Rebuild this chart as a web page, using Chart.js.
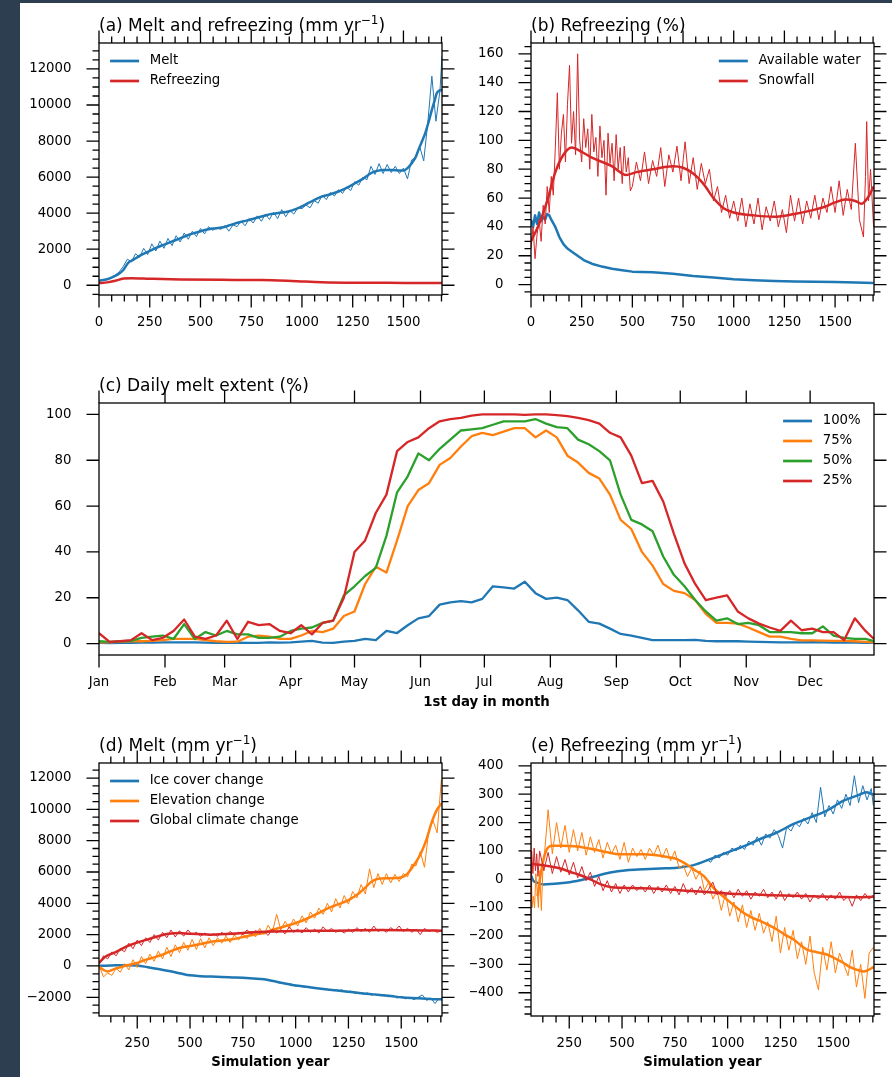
<!DOCTYPE html>
<html>
<head>
<meta charset="utf-8">
<title>Melt and refreezing</title>
<script src="https://cdn.jsdelivr.net/npm/chart.js@4.4.1/dist/chart.umd.min.js"></script>
<style>
  html, body { margin: 0; padding: 0; }
  body { width: 892px; height: 1077px; background: #2c3e50; position: relative; overflow: hidden; }
  #sheet { position: absolute; left: 20px; top: 3px; width: 872px; height: 1074px; background: #fff; }
  canvas { position: absolute; }
</style>
</head>
<body>
<div id="sheet"></div>
<canvas id="chartA"></canvas>
<canvas id="chartB"></canvas>
<canvas id="chartC"></canvas>
<canvas id="chartD"></canvas>
<canvas id="chartE"></canvas>
<script>
// ==================== HELPERS ====================
// evenly spaced positions (years / days / tick positions), inclusive
function every(from, to, step) {
    const out = [];
    for (let v = from; v <= to + 1e-9; v += step) out.push(v);
    return out;
}

const BLUE = '#1f77b4', ORANGE = '#ff7f0e', GREEN = '#2ca02c', RED = '#d62728';

// ==================== (a) MELT AND REFREEZING ====================
const meltYears = every(0, 1680, 20).concat([1690]);
const meltRaw = [
    250, 280, 330, 420, 560, 750, 1050, 1450, 1300, 1750,
    1550, 2050, 1700, 2300, 1900, 2450, 2050, 2600, 2200, 2750,
    2400, 2900, 2550, 3000, 2700, 3150, 2850, 3250, 3050, 3200,
    3100, 3300, 3000, 3350, 3250, 3550, 3300, 3700, 3450, 3850,
    3550, 3950, 3650, 4050, 3700, 4200, 3800, 4150, 3950, 4300,
    4250, 4450, 4300, 4700, 4550, 5000, 4750, 5150, 4950, 5300,
    5100, 5450, 5250, 5750, 5550, 6000, 5850, 6600, 6150, 6750,
    6200, 6700, 6250, 6600, 6200, 6500, 5900, 6950, 7100, 7700,
    6900, 9000, 11600, 9100, 10800, 12700
];
const meltSmoothYears = [0, 40, 80, 100, 120, 145, 170, 194, 230, 276, 320, 358, 400, 440, 480, 522, 560, 605, 650, 687,
    730, 769, 810, 851, 890, 933, 975, 1015, 1055, 1097, 1140, 1180, 1220, 1262, 1300, 1327, 1350, 1377, 1400, 1426,
    1460, 1500, 1520, 1541, 1560, 1574, 1590, 1607, 1625, 1640, 1655, 1664, 1677, 1690];
const meltSmooth = [250, 330, 520, 650, 850, 1260, 1420, 1590, 1800, 2050, 2250, 2420, 2600, 2790, 2930, 3070, 3150, 3200, 3350, 3480,
    3600, 3720, 3840, 3960, 4020, 4090, 4250, 4460, 4700, 4920, 5050, 5200, 5400, 5660, 5900, 6120, 6280, 6360, 6390, 6400,
    6380, 6360, 6500, 6770, 7100, 7510, 7950, 8430, 9100, 9730, 10300, 10650, 10800, 10840];
const refreezeYears = [0, 40, 80, 120, 160, 250, 400, 600, 800, 950, 1100, 1300, 1500, 1690];
const refreezeSmooth = [120, 160, 250, 370, 390, 360, 320, 300, 290, 240, 170, 140, 130, 120];

// ==================== (b) REFREEZING (%) ====================
const waterYears = [0, 10, 20, 30, 40, 50, 60, 70, 80, 90, 100, 120, 140, 160, 180, 200, 230, 260, 300, 350,
    400, 450, 500, 600, 700, 800, 900, 1000, 1100, 1200, 1300, 1400, 1500, 1600, 1690];
const waterPct = [45, 40, 48, 42, 50, 44, 47, 45, 49, 48, 45, 40, 33, 28, 25, 23, 20, 17, 14.5, 12.5,
    11, 10, 9, 8.5, 7.5, 6, 5, 3.8, 3, 2.5, 2.2, 2, 1.8, 1.5, 1.2];
const snowYears = every(0, 500, 10).concat(every(520, 1640, 20), [1650, 1656, 1665, 1675, 1690]);
const snowRaw = [
    25, 40, 18, 35, 45, 30, 55, 42, 68, 50, 75, 62, 95, 133, 80, 105, 118, 85, 125, 152,
    98, 120, 90, 160, 100, 85, 115, 95, 108, 80, 118, 92, 102, 75, 110, 88, 100, 62, 105, 84,
    98, 72, 104, 80, 95, 70, 96, 78, 88, 65, 68,
    85, 72, 92, 70, 86, 75, 95, 68, 90, 78, 96, 72, 99, 70, 88, 66, 84, 70, 80, 58,
    68, 50, 62, 46, 58, 44, 60, 40, 56, 42, 60, 38, 54, 44, 58, 40, 52, 36, 62, 44,
    60, 42, 58, 46, 62, 45, 60, 50, 68, 50, 72, 48, 66, 52, 98, 45, 33,
    75, 113, 58, 80, 40
];
const snowSmoothYears = [0, 40, 80, 120, 160, 200, 250, 300, 400, 470, 520, 600, 700, 750, 800, 850, 900, 950, 1000, 1100,
    1200, 1300, 1400, 1450, 1500, 1550, 1600, 1630, 1660, 1690];
const snowSmooth = [30, 42, 58, 78, 90, 95, 92, 88, 82, 76, 78, 80, 82, 81, 77, 70, 60, 53, 50, 48,
    47, 49, 52, 54, 57, 59, 58, 56, 60, 68];

// ==================== (c) DAILY MELT EXTENT ====================
const days = every(0, 360, 5).concat([364]);
const monthStarts = [0, 31, 59, 90, 120, 151, 181, 212, 243, 273, 304, 334];
const monthNames = ['Jan', 'Feb', 'Mar', 'Apr', 'May', 'Jun', 'Jul', 'Aug', 'Sep', 'Oct', 'Nov', 'Dec'];
const extent100 = [
    0.3, 0.2, 0.3, 0.3, 0.4, 0.4, 0.5, 0.5, 0.5, 0.5,
    0.4, 0.3, 0.3, 0.4, 0.3, 0.3, 0.5, 0.4, 0.5, 0.8,
    1.2, 0.4, 0.3, 0.8, 1.2, 2, 1.5, 5.5, 4.6, 8,
    11, 12, 17, 18, 18.5, 18, 19.5, 25, 24.5, 24,
    27, 22, 19.5, 20, 19, 14.5, 9.5, 8.7, 6.5, 4.2,
    3.5, 2.5, 1.5, 1.5, 1.5, 1.5, 1.6, 1.2, 1, 1,
    1, 0.8, 0.7, 0.6, 0.5, 0.5, 0.5, 0.6, 0.5, 0.4,
    0.4, 0.4, 0.3, 0.3
];
const extent75 = [
    0.5, 0.5, 0.8, 1, 1, 1.2, 1.5, 2, 2, 2,
    1.5, 1, 0.7, 0.8, 3, 3.5, 3, 2, 2, 3.5,
    5.5, 5, 6.5, 12, 14, 26, 33.5, 31, 45, 60,
    67, 70, 78, 81, 86, 90.5, 92, 91, 92.5, 94,
    94, 90, 93, 90, 82, 79, 74.5, 72, 65, 54,
    50, 40, 34, 26, 23, 22, 19, 13, 9, 9,
    8.7, 7, 5, 3, 3, 2, 1.4, 1.4, 1.3, 1.2,
    1.2, 1, 0.7, 0.5
];
const extent50 = [
    1, 0.7, 1, 1.2, 2.5, 3, 3.5, 2, 8.5, 2,
    5, 3.5, 5.5, 4, 4, 2.5, 2.5, 3, 5.5, 6.5,
    7, 9, 10, 21, 25, 29.5, 33, 47, 66, 73,
    83, 80, 85, 89, 93, 93.5, 94, 95.5, 97, 97,
    97, 98, 96, 94.5, 94, 89, 87, 84, 80, 65,
    54, 52, 49, 38, 30, 25, 19, 14, 10, 11,
    8.5, 9, 8, 5, 5, 5, 4.5, 4.5, 7.5, 3.5,
    2.5, 2, 2, 1
];
const extent25 = [
    4.5, 0.7, 1, 1.5, 4.5, 1.5, 2.5, 5.5, 10.5, 3,
    2, 3.5, 10, 2, 9.5, 8, 8.5, 5.5, 4.5, 8,
    4, 9, 10, 20, 40, 45, 57, 65, 84, 88,
    90, 94, 97, 98, 98.5, 99.5, 100, 100, 100, 100,
    99.8, 100, 100, 99.7, 99.3, 98.5, 97.5, 96, 92, 90,
    82, 70, 71, 62, 48, 35, 26, 19, 20, 21,
    14, 11, 8.7, 7, 5.5, 10, 5.8, 6.5, 5, 5,
    1.5, 11, 5.5, 2
];

// ==================== (d) MELT BY CAUSE ====================
const simYears = every(70, 1690, 20);
const dOrangeRaw = [
    0, -700, -450, -600, -150, -400, 150, -250, 400, -100,
    600, 150, 750, 300, 950, 450, 1200, 600, 1350, 850,
    1500, 1000, 1700, 1050, 1750, 1150, 1800, 1300, 1800, 1450,
    1900, 1500, 2000, 1650, 2050, 1750, 2200, 1850, 2400, 2000,
    2600, 2150, 3300, 2300, 2850, 2400, 3000, 2550, 3200, 2750,
    3450, 3050, 3700, 3300, 4000, 3450, 4300, 3700, 4500, 3950,
    4750, 4350, 5200, 4600, 6200, 5000, 5900, 5200, 5900, 5300,
    5850, 5400, 5900, 5700, 6500, 6400, 7300, 6300, 8600, 9300,
    8500, 11900
];
const dRedRaw = [
    100, 650, 450, 900, 650, 1100, 900, 1450, 1100, 1650,
    1300, 1800, 1500, 2000, 1650, 2150, 1800, 2300, 1850, 2250,
    1900, 2300, 2000, 2150, 1900, 2100, 1950, 2050, 1900, 2150,
    1950, 2200, 2000, 2150, 2000, 2300, 2050, 2250, 2100, 2200,
    1950, 2350, 2100, 2300, 2050, 2500, 2150, 2350, 2100, 2450,
    2150, 2350, 2100, 2500, 2200, 2400, 2150, 2300, 2100, 2350,
    2150, 2450, 2200, 2400, 2150, 2550, 2200, 2350, 2150, 2450,
    2250, 2550, 2200, 2400, 2150, 2350, 2000, 2400, 2200, 2300,
    2150, 2250
];
const dBlueRawYears = every(900, 1680, 20).concat([1690]);
const dBlueRaw = [
    -950, -1080, -1100, -1180, -1150, -1300, -1250, -1360, -1300, -1420,
    -1380, -1480, -1430, -1560, -1500, -1600, -1520, -1680, -1600, -1750,
    -1680, -1800, -1720, -1870, -1790, -1900, -1830, -1970, -1880, -2050,
    -1950, -2100, -2000, -2150, -2000, -1850, -2200, -2050, -2400, -2050,
    -2200
];
const dBlueSmoothYears = [69, 100, 150, 200, 250, 300, 350, 400, 450, 500, 550, 600, 650, 700, 750, 800, 850, 900, 950, 1000,
    1050, 1100, 1150, 1200, 1250, 1300, 1350, 1400, 1450, 1500, 1550, 1600, 1650, 1693];
const dBlueSmooth = [0, 20, 40, 50, 30, -80, -200, -320, -460, -600, -650, -680, -700, -730, -760, -800, -850, -980, -1120, -1250,
    -1330, -1420, -1500, -1570, -1640, -1720, -1790, -1860, -1920, -2000, -2050, -2080, -2120, -2130];
const dOrangeSmoothYears = [69, 90, 110, 140, 170, 207, 250, 286, 330, 365, 400, 450, 500, 550, 600, 650, 700, 750, 800, 850,
    900, 950, 1000, 1050, 1100, 1150, 1200, 1250, 1300, 1330, 1360, 1400, 1450, 1500, 1530, 1560, 1590, 1620, 1645, 1670, 1693];
const dOrangeSmooth = [-50, -250, -350, -200, -80, 60, 200, 380, 550, 700, 900, 1150, 1280, 1400, 1550, 1620, 1700, 1850, 1990, 2120,
    2340, 2540, 2740, 3000, 3320, 3660, 3930, 4200, 4650, 5000, 5390, 5580, 5600, 5650, 5900, 6450, 7100, 8100, 9200, 10000, 10400];
const dRedSmoothYears = [69, 100, 150, 200, 250, 300, 350, 400, 450, 500, 600, 700, 800, 900, 1000, 1200, 1400, 1600, 1693];
const dRedSmooth = [200, 600, 900, 1250, 1500, 1700, 1900, 2050, 2100, 2050, 2000, 2050, 2150, 2200, 2230, 2250, 2300, 2270, 2250];

// ==================== (e) REFREEZING BY CAUSE ====================
const eOrangeYears = [68, 74, 80, 86, 92, 98, 104, 110, 118, 126, 134, 142, 150].concat(every(170, 1690, 20));
const eOrangeRaw = [
    160, -100, -60, -100, 20, -40, -100, 30, -110, 50, 100, 170, 245,
    90, 200, 110, 190, 95, 175, 100, 165, 85, 150,
    95, 140, 75, 130, 90, 120, 70, 130, 60, 110,
    80, 105, 70, 110, 85, 120, 75, 110, 65, 100,
    40, 50, 10, 40, 0, 30, -40, -10, -70, -40,
    -110, -50, -130, -80, -150, -90, -170, -110, -180, -120,
    -190, -150, -220, -130, -260, -170, -250, -180, -280, -220,
    -300, -200, -330, -390, -240, -320, -220, -330, -260, -300,
    -340, -250, -380, -300, -420, -260, -240
];
const eRedYears = [68, 72, 78, 84, 90, 96, 102, 110].concat(every(130, 1690, 20));
const eRedRaw = [
    -150, 100, 20, 110, 30, 90, 10, 100,
    30, 95, 20, 80, 25, 70, 15, 60, 5, 45,
    -5, 25, -25, 10, -40, -5, -45, -15, -50, -20,
    -45, -20, -40, -25, -45, -20, -50, -25, -45, -20,
    -50, -25, -55, -15, -50, -30, -55, -25, -55, -35,
    -10, -55, -40, -60, -40, -65, -35, -60, -40, -70,
    -45, -60, -35, -65, -45, -70, -40, -75, -50, -65,
    -45, -70, -50, -80, -55, -70, -50, -75, -55, -70,
    -45, -75, -60, -95, -55, -75, -50, -70, -55
];
const eBlueRawYears = every(900, 1680, 20).concat([1690]);
const eBlueRaw = [
    70, 60, 85, 75, 95, 85, 110, 100, 120, 105,
    135, 120, 150, 120, 160, 145, 175, 155, 110, 185,
    170, 200, 185, 215, 195, 235, 200, 325, 220, 260,
    230, 280, 250, 300, 260, 365, 270, 330, 280, 320,
    260
];
const eBlueSmoothYears = [68, 80, 97, 128, 207, 286, 365, 444, 523, 602, 681, 760, 839, 917, 996, 1075, 1154, 1233, 1312, 1391,
    1470, 1549, 1612, 1659, 1692];
const eBlueSmooth = [15, -5, -12, -18, -14, -6, 9, 24, 32, 35, 38, 41, 50, 71, 94, 116, 142, 165, 195, 218,
    242, 277, 295, 307, 297];
const eOrangeSmoothYears = [100, 120, 140, 170, 207, 286, 365, 430, 491, 550, 602, 650, 681, 720, 760, 800, 839, 886, 933, 965,
    996, 1035, 1075, 1115, 1154, 1195, 1233, 1270, 1312, 1345, 1375, 1422, 1470, 1510, 1549, 1580, 1612, 1643, 1665, 1692];
const eOrangeSmooth = [-60, 40, 100, 118, 118, 116, 106, 95, 88, 88, 88, 86, 83, 78, 71, 55, 35, 12, -30, -52,
    -71, -95, -118, -135, -147, -162, -177, -195, -212, -232, -248, -257, -265, -280, -295, -310, -319, -325, -320, -309];
const eRedSmoothYears = [68, 120, 200, 260, 300, 350, 400, 450, 500, 600, 700, 800, 900, 1000, 1100, 1200, 1300, 1400, 1500, 1600, 1692];
const eRedSmooth = [55, 50, 40, 25, 15, 0, -18, -28, -30, -32, -35, -40, -45, -50, -53, -56, -58, -60, -62, -63, -62];

// ==================== TICKS ====================
const yearTicks = [0, 250, 500, 750, 1000, 1250, 1500];
const simTicks = [250, 500, 750, 1000, 1250, 1500];
const meltTicks = [0, 2000, 4000, 6000, 8000, 10000, 12000];
const pctTicks = [0, 20, 40, 60, 80, 100, 120, 140, 160];
const extentTicks = [0, 20, 40, 60, 80, 100];
const dMeltTicks = [-2000, 0, 2000, 4000, 6000, 8000, 10000, 12000];
const eRefTicks = [-400, -300, -200, -100, 0, 100, 200, 300, 400];

// ==================== CHART PLUMBING ====================
Chart.defaults.font.family = '"DejaVu Sans", sans-serif';
Chart.defaults.font.size = 13.3;
Chart.defaults.color = '#000';

const num = v => (v < 0 ? '\u2212' + Math.abs(v) : String(v));

function series(xs, ys, color, width, smooth) {
    return {
        data: xs.map((x, i) => ({ x, y: ys[i] })),
        borderColor: color,
        borderWidth: width,
        pointRadius: 0,
        fill: false,
        borderJoinStyle: 'round',
        cubicInterpolationMode: smooth ? 'monotone' : 'default',
        tension: 0
    };
}

// spines, outward ticks on all four sides, panel title and legend
const frame = {
    id: 'frame',
    afterDraw(chart, args, o) {
        const { ctx, chartArea: a, scales: { x, y } } = chart;
        ctx.save();
        ctx.strokeStyle = '#000';
        ctx.lineWidth = 1.3;
        ctx.beginPath();
        const xTicks = (list, len) => list.forEach(v => {
            if (v < x.min || v > x.max) return;
            const p = x.getPixelForValue(v);
            ctx.moveTo(p, a.bottom); ctx.lineTo(p, a.bottom + len);
            ctx.moveTo(p, a.top); ctx.lineTo(p, a.top - len);
        });
        const yTicks = (list, len) => list.forEach(v => {
            if (v < y.min || v > y.max) return;
            const p = y.getPixelForValue(v);
            ctx.moveTo(a.left, p); ctx.lineTo(a.left - len, p);
            ctx.moveTo(a.right, p); ctx.lineTo(a.right + len, p);
        });
        xTicks(o.xMajor, 12.5); xTicks(o.xMinor || [], 6.5);
        yTicks(o.yMajor, 12.5); yTicks(o.yMinor || [], 6.5);
        ctx.stroke();
        ctx.strokeRect(a.left, a.top, a.right - a.left, a.bottom - a.top);

        // title with superscript parts
        ctx.fillStyle = '#000';
        ctx.textAlign = 'left';
        ctx.textBaseline = 'alphabetic';
        let tx = a.left;
        const ty = a.top - 12.5;
        o.title.forEach(([txt, sup]) => {
            ctx.font = (sup ? '12px' : '17px') + ' "DejaVu Sans"';
            ctx.fillText(txt, tx, sup ? ty - 6.5 : ty);
            tx += ctx.measureText(txt).width;
        });

        if (o.legend) {
            ctx.font = '13.3px "DejaVu Sans"';
            ctx.textBaseline = 'middle';
            const items = o.legend.items;
            let lx = a.left + 50.7;
            if (o.legend.side === 'right') {
                const w = Math.max(...items.map(it => ctx.measureText(it.label).width));
                lx = a.right - 13.3 - w;
            }
            items.forEach((it, i) => {
                const ly = a.top + 18 + 20 * i;
                ctx.strokeStyle = it.color;
                ctx.lineWidth = 2.7;
                ctx.beginPath();
                ctx.moveTo(lx - 39.6, ly); ctx.lineTo(lx - 10.6, ly);
                ctx.stroke();
                ctx.fillStyle = '#000';
                ctx.fillText(it.label, lx, ly);
            });
        }
        ctx.restore();
    }
};

function buildChart(id, rect, area, cfg) {
    const [rx, ry, rw, rh] = rect;
    const [al, at, ar, ab] = area;
    const cv = document.getElementById(id);
    cv.width = rw; cv.height = rh;
    Object.assign(cv.style, { left: rx + 'px', top: ry + 'px', width: rw + 'px', height: rh + 'px' });
    return new Chart(cv, {
        type: 'line',
        data: { datasets: cfg.datasets },
        options: {
            responsive: false,
            animation: false,
            events: [],
            layout: { autoPadding: false, padding: { left: 0, top: at - ry, right: rx + rw - ar, bottom: 0 } },
            plugins: { legend: { display: false }, tooltip: { enabled: false }, frame: cfg.frame },
            scales: {
                x: {
                    type: 'linear', min: cfg.xRange[0], max: cfg.xRange[1],
                    grid: { display: false }, border: { display: false },
                    afterFit: s => { s.height = ry + rh - ab; },
                    afterBuildTicks: s => { s.ticks = cfg.frame.xMajor.map(v => ({ value: v })); },
                    ticks: { padding: 11.5, autoSkip: false, maxRotation: 0, color: '#000', callback: cfg.xLabel || num },
                    title: cfg.xTitle
                        ? { display: true, text: cfg.xTitle, color: '#000', font: { weight: 'bold', size: 13.3 }, padding: { top: 0, bottom: cfg.xTitlePad } }
                        : { display: false }
                },
                y: {
                    type: 'linear', min: cfg.yRange[0], max: cfg.yRange[1],
                    grid: { display: false }, border: { display: false },
                    afterFit: s => { s.width = al - rx; },
                    afterBuildTicks: s => { s.ticks = cfg.frame.yMajor.map(v => ({ value: v })); },
                    ticks: { padding: 19.5, color: '#000', callback: num }
                }
            }
        },
        plugins: [frame]
    });
}

// ==================== PANELS ====================
buildChart('chartA', [20, 3, 450, 342], [99, 43, 442, 295], {
    xRange: [0, 1690], yRange: [-540, 13440],
    datasets: [
        series(refreezeYears, refreezeSmooth, RED, 2.5, true),
        series(meltSmoothYears, meltSmooth, BLUE, 2.5, true),
        series(meltYears, meltRaw, BLUE, 1, false)
    ],
    frame: {
        xMajor: yearTicks, xMinor: every(0, 1690, 62.5),
        yMajor: meltTicks, yMinor: every(-500, 13000, 500),
        title: [['(a) Melt and refreezing (mm yr'], ['\u22121', true], [')']],
        legend: { side: 'left', items: [{ label: 'Melt', color: BLUE }, { label: 'Refreezing', color: RED }] }
    }
});

buildChart('chartB', [470, 3, 422, 342], [531, 43, 874, 295], {
    xRange: [0, 1692], yRange: [-7.2, 167.5],
    datasets: [
        series(snowSmoothYears, snowSmooth, RED, 2.5, true),
        series(snowYears, snowRaw, RED, 1, false),
        series(waterYears, waterPct, BLUE, 2.5, false)
    ],
    frame: {
        xMajor: yearTicks, xMinor: every(0, 1692, 62.5),
        yMajor: pctTicks, yMinor: every(-5, 165, 5),
        title: [['(b) Refreezing (%)']],
        legend: { side: 'right', items: [{ label: 'Available water', color: BLUE }, { label: 'Snowfall', color: RED }] }
    }
});

buildChart('chartC', [20, 345, 872, 375], [99, 403, 874, 655], {
    xRange: [0, 364], yRange: [-5, 105],
    xLabel: (v, i) => monthNames[i],
    xTitle: '1st day in month', xTitlePad: 9.5,
    datasets: [
        series(days, extent25, RED, 2.3, false),
        series(days, extent50, GREEN, 2.3, false),
        series(days, extent75, ORANGE, 2.3, false),
        series(days, extent100, BLUE, 2.3, false)
    ],
    frame: {
        xMajor: monthStarts, yMajor: extentTicks,
        title: [['(c) Daily melt extent (%)']],
        legend: { side: 'right', items: [
            { label: '100%', color: BLUE }, { label: '75%', color: ORANGE },
            { label: '50%', color: GREEN }, { label: '25%', color: RED }] }
    }
});

buildChart('chartD', [20, 720, 450, 357], [99, 763, 442, 1016], {
    xRange: [69, 1693], yRange: [-3195, 12960],
    xTitle: 'Simulation year', xTitlePad: 6.5,
    datasets: [
        series(dRedSmoothYears, dRedSmooth, RED, 2.5, true),
        series(simYears, dRedRaw, RED, 1, false),
        series(dOrangeSmoothYears, dOrangeSmooth, ORANGE, 2.5, true),
        series(simYears, dOrangeRaw, ORANGE, 1, false),
        series(dBlueSmoothYears, dBlueSmooth, BLUE, 2.5, true),
        series(dBlueRawYears, dBlueRaw, BLUE, 1, false)
    ],
    frame: {
        xMajor: simTicks, xMinor: every(125, 1693, 62.5),
        yMajor: dMeltTicks, yMinor: every(-3000, 12500, 500),
        title: [['(d) Melt (mm yr'], ['\u22121', true], [')']],
        legend: { side: 'left', items: [
            { label: 'Ice cover change', color: BLUE }, { label: 'Elevation change', color: ORANGE },
            { label: 'Global climate change', color: RED }] }
    }
});

buildChart('chartE', [470, 720, 422, 357], [531, 763, 874, 1016], {
    xRange: [69, 1693], yRange: [-482, 410],
    xTitle: 'Simulation year', xTitlePad: 6.5,
    datasets: [
        series(eRedSmoothYears, eRedSmooth, RED, 2.5, true),
        series(eRedYears, eRedRaw, RED, 1, false),
        series(eOrangeSmoothYears, eOrangeSmooth, ORANGE, 2.5, true),
        series(eOrangeYears, eOrangeRaw, ORANGE, 1, false),
        series(eBlueSmoothYears, eBlueSmooth, BLUE, 2.5, true),
        series(eBlueRawYears, eBlueRaw, BLUE, 1, false)
    ],
    frame: {
        xMajor: simTicks, xMinor: every(125, 1693, 62.5),
        yMajor: eRefTicks, yMinor: every(-475, 400, 25),
        title: [['(e) Refreezing (mm yr'], ['\u22121', true], [')']]
    }
});
</script>
</body>
</html>
